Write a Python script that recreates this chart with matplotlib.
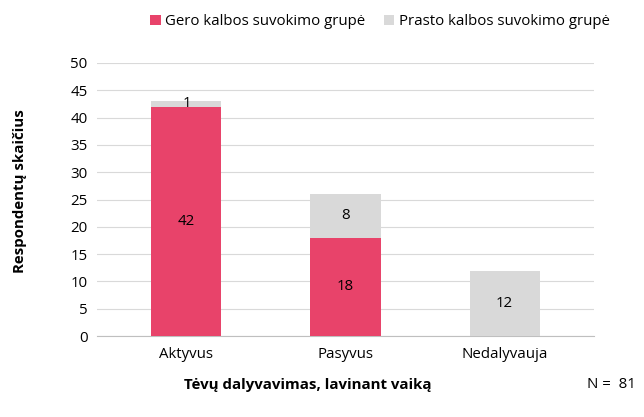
import matplotlib
matplotlib.use("Agg")
import matplotlib.pyplot as plt
import numpy as np

plt.rcParams['font.family'] = ['Open Sans', 'DejaVu Sans']

# Duomenys
kategorijos = ['Aktyvus', 'Pasyvus', 'Nedalyvauja']
gero = [42, 18, 0]
prasto = [1, 8, 12]
serijos = ['Gero kalbos suvokimo grupė', 'Prasto kalbos suvokimo grupė']

raudona = '#E8436A'
pilka = '#D9D9D9'
fs = 10.8

fig = plt.figure(figsize=(6.44, 4.17), dpi=100)
ax = fig.add_axes([0.151, 0.194, 0.771, 0.655])

x = np.arange(len(kategorijos))
w = 0.44
ax.bar(x, gero, width=w, color=raudona, label=serijos[0], zorder=3)
ax.bar(x, prasto, width=w, bottom=gero, color=pilka, label=serijos[1], zorder=3)

# Reikšmių žymės
for i in range(len(x)):
    if gero[i] > 0:
        ax.text(x[i], gero[i] / 2, str(gero[i]), ha='center', va='center', fontsize=fs, zorder=4)
    if prasto[i] > 0:
        ax.text(x[i], gero[i] + prasto[i] / 2, str(prasto[i]), ha='center', va='center', fontsize=fs, zorder=4)

ax.set_ylim(0, 50)
ax.set_xlim(-0.56, 2.56)
ax.set_yticks(range(0, 51, 5))
ax.set_xticks(x)
ax.set_xticklabels(kategorijos)
ax.tick_params(axis='both', length=0, labelsize=fs)
ax.tick_params(axis='y', pad=7)
ax.tick_params(axis='x', pad=8)

ax.grid(axis='y', color='#D9D9D9', linewidth=0.8, zorder=0)
for s in ['top', 'right', 'left']:
    ax.spines[s].set_visible(False)
ax.spines['bottom'].set_color('#BFBFBF')

fig.text(0.031, 0.542, 'Respondentų skaičius', rotation=90, ha='center', va='center',
         fontsize=fs, fontweight='bold')
fig.text(0.478, 0.077, 'Tėvų dalyvavimas, lavinant vaiką', ha='center', va='center',
         fontsize=fs, fontweight='bold')
fig.text(0.95, 0.077, 'N =  81', ha='center', va='center', fontsize=fs)

fig.legend(loc='center', bbox_to_anchor=(0.59, 0.948), ncol=2, frameon=False,
           fontsize=fs, handlelength=0.7, handleheight=0.7, handletextpad=0.3,
           columnspacing=1.2)

fig.savefig('out.png', dpi=100)
